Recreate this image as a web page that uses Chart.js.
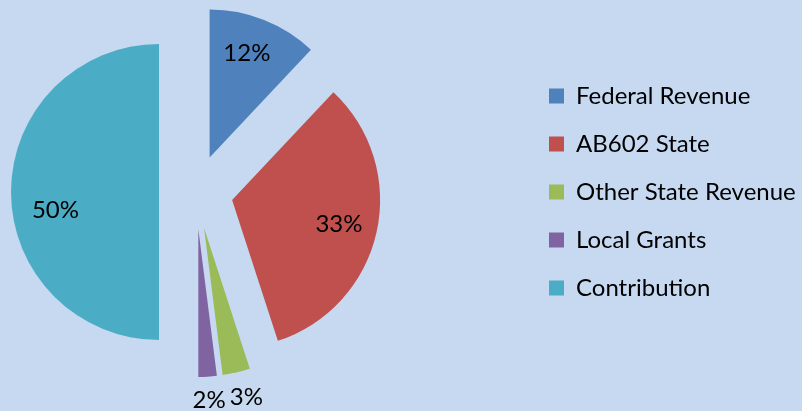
<!DOCTYPE html>
<html>
<head>
<meta charset="utf-8">
<script src="https://cdn.jsdelivr.net/npm/chart.js@4/dist/chart.umd.min.js"></script>
<style>
  html, body { margin: 0; padding: 0; background: #c6d9f0; }
  #wrap { width: 802px; height: 411px; }
</style>
</head>
<body>
<div id="wrap"><canvas id="c" width="802" height="411"></canvas></div>
<script>
// ---- data ----
const categories = ['Federal Revenue', 'AB602 State', 'Other State Revenue', 'Local Grants', 'Contribution'];
const shares = [12, 33, 3, 2, 50];
const colors = ['#4f81bd', '#c0504d', '#9bbb59', '#8064a2', '#4bacc6'];

// ---- style ----
const EXPLODE = 37;              // px each slice is pulled out from the centre
const labelPlace = [             // label distance (x radius) and angle tweak (deg)
  { k: 0.75, shift: -2 },
  { k: 0.74, shift: 0 },
  { k: 1.18, shift: -1.4 },
  { k: 1.16, shift: 0 },
  { k: 0.71, shift: -9.8 }
];
const FONT = 'Lato';

const explodePlugin = {
  id: 'explode',
  afterDatasetUpdate(chart, args) {
    args.meta.data.forEach(arc => {
      const mid = (arc.startAngle + arc.endAngle) / 2;
      arc.x += Math.cos(mid) * EXPLODE;
      arc.y += Math.sin(mid) * EXPLODE;
    });
  }
};

const labelPlugin = {
  id: 'pctLabels',
  afterDatasetsDraw(chart) {
    const ctx = chart.ctx;
    const meta = chart.getDatasetMeta(0);
    const total = shares.reduce((a, b) => a + b, 0);
    ctx.save();
    ctx.font = '24px ' + FONT;
    ctx.fillStyle = '#000';
    ctx.textAlign = 'center';
    ctx.textBaseline = 'middle';
    meta.data.forEach((arc, i) => {
      const p = labelPlace[i];
      const a = (arc.startAngle + arc.endAngle) / 2 + p.shift * Math.PI / 180;
      const r = arc.outerRadius * p.k;
      const txt = Math.round(shares[i] / total * 100) + '%';
      ctx.fillText(txt, arc.x + Math.cos(a) * r, arc.y + Math.sin(a) * r);
    });
    ctx.restore();
  }
};

new Chart(document.getElementById('c'), {
  type: 'pie',
  data: {
    labels: categories,
    datasets: [{
      data: shares,
      backgroundColor: colors,
      borderWidth: 0,
      clip: false
    }]
  },
  options: {
    responsive: false,
    animation: false,
    layout: { padding: { left: 0, right: 0, top: 44, bottom: 71 } },
    plugins: {
      legend: {
        position: 'right',
        align: 'center',
        maxWidth: 277,
        labels: {
          boxWidth: 15,
          boxHeight: 15,
          padding: 24,
          color: '#000',
          font: { family: FONT, size: 24 }
        }
      },
      // empty spacer box between the pie and the legend
      subtitle: {
        display: true,
        text: ' ',
        position: 'right',
        weight: 500,
        font: { size: 10, lineHeight: 1.2 },
        padding: { top: 0, bottom: 121 }
      },
      tooltip: { enabled: false }
    }
  },
  plugins: [explodePlugin, labelPlugin]
});
</script>
</body>
</html>
